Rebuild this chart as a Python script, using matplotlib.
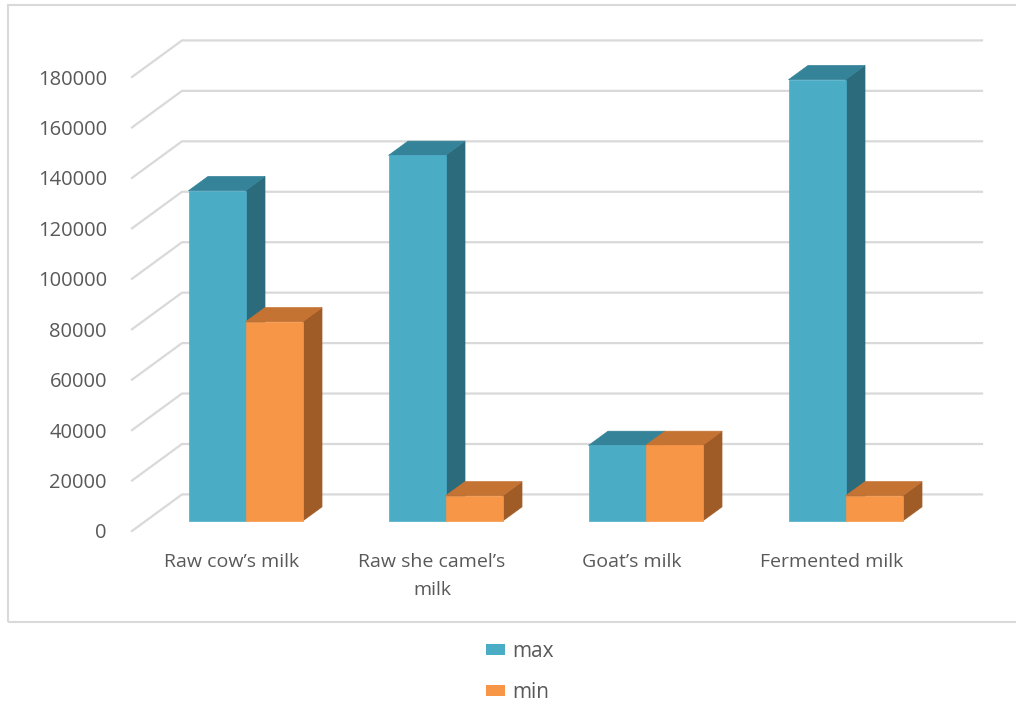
import matplotlib.pyplot as plt
from matplotlib.patches import Polygon, Rectangle, Patch

# data
categories = ["Raw cow’s milk", "Raw she camel’s\nmilk", "Goat’s milk", "Fermented milk"]
max_vals = [131000, 145000, 30000, 175000]
min_vals = [79000, 10000, 30000, 10000]
yticks = [0, 20000, 40000, 60000, 80000, 100000, 120000, 140000, 160000, 180000]

# colours (front, top, side)
blue = ("#4bacc6", "#358399", "#2c6b7c")
orange = ("#f79646", "#c57333", "#a05c27")
grid_c = "#d9d9d9"
text_c = "#595959"

# fake 3d depth (full wall depth in data units)
DX = 0.25
DY = 14500
t0, t1 = 0.27, 0.66  # bar front / back depth
w = 0.285

plt.rcParams['font.family'] = ['Open Sans', 'DejaVu Sans']

fig = plt.figure(figsize=(10.16, 7.07), dpi=100)
ax = fig.add_axes([132 / 1016, 176 / 707, 800 / 1016, 454 / 707])
ax.set_xlim(-0.5, 3.5)
ax.set_ylim(0, 180000)

# gridlines: diagonal on the side, horizontal on the back wall
for v in yticks:
    ax.plot([-0.5, -0.5 + DX, 3.5 + DX], [v, v + DY, v + DY],
            color=grid_c, lw=1.6, clip_on=False, zorder=1)


def bar3d(x0, v, cols):
    fx, fy = t0 * DX, t0 * DY
    bx, by = t1 * DX, t1 * DY
    front = [(x0 + fx, fy), (x0 + w + fx, fy), (x0 + w + fx, v + fy), (x0 + fx, v + fy)]
    top = [(x0 + fx, v + fy), (x0 + w + fx, v + fy), (x0 + w + bx, v + by), (x0 + bx, v + by)]
    side = [(x0 + w + fx, fy), (x0 + w + bx, by), (x0 + w + bx, v + by), (x0 + w + fx, v + fy)]
    for pts, c in [(side, cols[2]), (top, cols[1]), (front, cols[0])]:
        ax.add_patch(Polygon(pts, closed=True, facecolor=c, edgecolor=c, lw=0.5,
                             clip_on=False, zorder=3))


for i in range(len(categories)):
    bar3d(i - w, max_vals[i], blue)
    bar3d(i, min_vals[i], orange)

ax.set_yticks(yticks)
ax.set_yticklabels([str(v) for v in yticks])
ax.set_xticks(range(len(categories)))
ax.set_xticklabels(categories, linespacing=1.7)
ax.tick_params(axis='y', length=0, pad=18, labelsize=14.5, labelcolor=text_c)
ax.tick_params(axis='x', length=0, pad=16, labelsize=14, labelcolor=text_c)
for s in ax.spines.values():
    s.set_visible(False)

# chart frame
fig.add_artist(Rectangle((8 / 1016, 85 / 707), 1.0, 617 / 707, transform=fig.transFigure,
                         facecolor="none", edgecolor=grid_c, lw=1.5))

handles = [Patch(facecolor=blue[0], label="max"), Patch(facecolor=orange[0], label="min")]
fig.legend(handles=handles, loc="center", bbox_to_anchor=(520 / 1016, 35 / 707),
           frameon=False, fontsize=15, labelcolor=text_c, handlelength=0.9,
           handleheight=0.45, handletextpad=0.35, labelspacing=0.95)

fig.savefig("out.png", dpi=100)
